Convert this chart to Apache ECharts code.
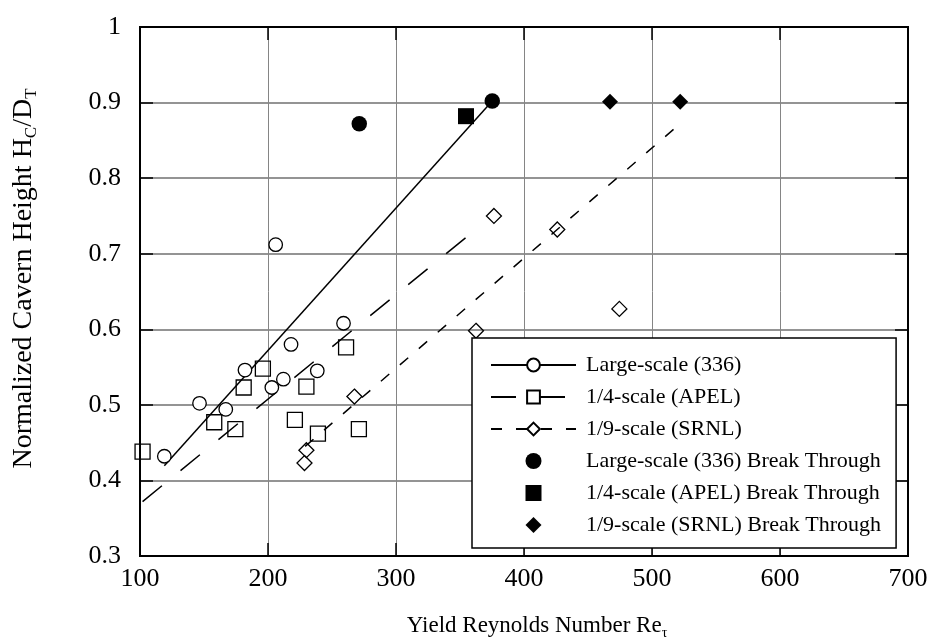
<!DOCTYPE html>
<html>
<head>
<meta charset="utf-8">
<script src="https://cdn.jsdelivr.net/npm/echarts@6/dist/echarts.min.js"></script>
<style>html,body{margin:0;padding:0;background:#fff}#c{width:930px;height:644px}</style>
</head>
<body>
<div id="c"></div>
<script>
// ---- data ----
const xTicks = [100, 200, 300, 400, 500, 600, 700];
const yTicks = [0.3, 0.4, 0.5, 0.6, 0.7, 0.8, 0.9, 1];

const largeX = [206, 259, 218, 182, 238.5, 212, 203, 146.5, 167, 119];
const largeY = [0.712, 0.608, 0.580, 0.546, 0.545, 0.534, 0.523, 0.502, 0.494, 0.432];

const quarterX = [102, 158, 174.5, 181, 196, 230, 261, 221, 239, 271];
const quarterY = [0.438, 0.477, 0.468, 0.523, 0.548, 0.524, 0.576, 0.480, 0.462, 0.468];

const ninthX = [230, 228.5, 267.5, 362.5, 376.5, 426, 474.5];
const ninthY = [0.440, 0.423, 0.511, 0.598, 0.750, 0.732, 0.627];

const largeBTX = [271.3, 375.2];
const largeBTY = [0.872, 0.902];
const quarterBTX = [354.7];
const quarterBTY = [0.882];
const ninthBTX = [467.2, 522];
const ninthBTY = [0.901, 0.901];

const largeFitX = [119, 375.2];
const largeFitY = [0.4195, 0.902];
const quarterFitX = [102, 355];
const quarterFitY = [0.372, 0.722];
const ninthFitX = [229, 522];
const ninthFitY = [0.445, 0.872];

const names = [
  'Large-scale (336)',
  '1/4-scale (APEL)',
  '1/9-scale (SRNL)',
  'Large-scale (336) Break Through',
  '1/4-scale (APEL) Break Through',
  '1/9-scale (SRNL) Break Through'
];

function pairs(xs, ys) { return xs.map((x, i) => [x, ys[i]]); }

const FONT = "'Liberation Serif', 'Times New Roman', serif";
const SQUARE_ICON = 'path://M0,0L10,0L10,10L0,10Z';
const DIAMOND_ICON = 'path://M5,0L10,5L5,10L0,5Z';

const chart = echarts.init(document.getElementById('c'), null, {renderer: 'canvas'});

function fitLine(name, xs, ys, type, symbol, fill) {
  return {
    type: 'line', name: name, data: pairs(xs, ys),
    symbol: symbol, showSymbol: false, symbolSize: 13,
    itemStyle: {color: fill, borderColor: '#000', borderWidth: 1.3},
    lineStyle: {color: '#000', width: 1.5, type: type},
    silent: true, animation: false, z: 2
  };
}
function openScatter(name, xs, ys, symbol, size, fill) {
  return {
    type: 'scatter', name: name, data: pairs(xs, ys),
    symbol: symbol, symbolSize: size,
    itemStyle: {color: fill, borderColor: '#000', borderWidth: 1.3, opacity: 1},
    animation: false, z: 3
  };
}
function filledScatter(name, xs, ys, symbol, size) {
  return {
    type: 'scatter', name: name, data: pairs(xs, ys),
    symbol: symbol, symbolSize: size,
    itemStyle: {color: '#000', opacity: 1},
    animation: false, z: 4
  };
}

const axisLabelStyle = {color: '#000', fontFamily: FONT, fontSize: 26};

chart.setOption({
  backgroundColor: '#fff',
  animation: false,
  grid: {left: 140, right: 22, top: 27, bottom: 88, containLabel: false, outerBoundsMode: 'none',
         show: true, borderColor: '#000', borderWidth: 2, backgroundColor: 'transparent'},
  xAxis: [{
    type: 'value', min: 100, max: 700, interval: 100, position: 'bottom',
    axisLine: {show: true, onZero: false, lineStyle: {color: '#000', width: 2}},
    axisTick: {show: true, inside: true, length: 13, lineStyle: {color: '#000', width: 1.5}},
    axisLabel: Object.assign({margin: 10, formatter: v => String(v)}, axisLabelStyle),
    splitLine: {show: true, lineStyle: {color: '#858585', width: 1}},
    name: '{a|Yield Reynolds Number Re}{s|τ}',
    nameLocation: 'middle', nameGap: 56,
    nameTextStyle: {
      rich: {
        a: {fontFamily: FONT, fontSize: 23, color: '#000', lineHeight: 28, padding: [0, 0, 0, 26]},
        s: {fontFamily: FONT, fontSize: 14, color: '#000', lineHeight: 14, verticalAlign: 'bottom'}
      }
    }
  }, {
    type: 'value', min: 100, max: 700, interval: 100, position: 'top',
    axisLine: {show: true, onZero: false, lineStyle: {color: '#000', width: 2}},
    axisTick: {show: true, inside: true, length: 13, lineStyle: {color: '#000', width: 1.5}},
    axisLabel: {show: false}, splitLine: {show: false}
  }],
  yAxis: [{
    type: 'value', min: 0.3, max: 1, interval: 0.1, position: 'left',
    axisLine: {show: true, onZero: false, lineStyle: {color: '#000', width: 2}},
    axisTick: {show: true, inside: true, length: 13, lineStyle: {color: '#000', width: 1.5}},
    axisLabel: Object.assign({margin: 19, formatter: v => String(Math.round(v * 10) / 10)}, axisLabelStyle),
    splitLine: {show: true, lineStyle: {color: '#707070', width: 1.5}},
    name: '{p|}{a|Normalized Cavern Height H}{s|C}{a|/D}{s|T}',
    nameLocation: 'middle', nameGap: 100,
    nameTextStyle: {
      rich: {
        p: {width: 26, lineHeight: 32},
        a: {fontFamily: FONT, fontSize: 28, color: '#000', lineHeight: 32},
        s: {fontFamily: FONT, fontSize: 17, color: '#000', lineHeight: 16, verticalAlign: 'bottom'}
      }
    }
  }, {
    type: 'value', min: 0.3, max: 1, interval: 0.1, position: 'right',
    axisLine: {show: true, onZero: false, lineStyle: {color: '#000', width: 2}},
    axisTick: {show: true, inside: true, length: 13, lineStyle: {color: '#000', width: 1.5}},
    axisLabel: {show: false}, splitLine: {show: false}
  }],
  legend: {
    show: true, orient: 'vertical', left: 472, top: 338,
    data: [
      {name: names[0]},
      {name: names[1]},
      {name: names[2]},
      {name: names[3]},
      {name: names[4], icon: SQUARE_ICON},
      {name: names[5], icon: DIAMOND_ICON}
    ],
    itemWidth: 85, itemHeight: 16, itemGap: 10, symbolKeepAspect: true,
    padding: [16, 15, 12, 18],
    backgroundColor: '#fff', borderColor: '#000', borderWidth: 1.5, borderRadius: 0,
    textStyle: {color: '#000', fontFamily: FONT, fontSize: 22, lineHeight: 22, padding: [0, 0, 0, 5]},
    selectedMode: false
  },
  series: [
    fitLine(names[0], largeFitX, largeFitY, 'solid', 'circle', '#fff'),
    fitLine(names[1], quarterFitX, quarterFitY, [25, 24], 'rect', 'rgba(0,0,0,0)'),
    fitLine(names[2], ninthFitX, ninthFitY, [11, 14], 'diamond', 'rgba(0,0,0,0)'),
    openScatter(names[0], largeX, largeY, 'circle', 13.5, '#fff'),
    openScatter(names[1], quarterX, quarterY, 'rect', 15, 'rgba(0,0,0,0)'),
    openScatter(names[2], ninthX, ninthY, 'diamond', 15, 'rgba(0,0,0,0)'),
    filledScatter(names[3], largeBTX, largeBTY, 'circle', 15.5),
    filledScatter(names[4], quarterBTX, quarterBTY, 'rect', 16),
    filledScatter(names[5], ninthBTX, ninthBTY, 'diamond', 16)
  ]
});
</script>
</body>
</html>
